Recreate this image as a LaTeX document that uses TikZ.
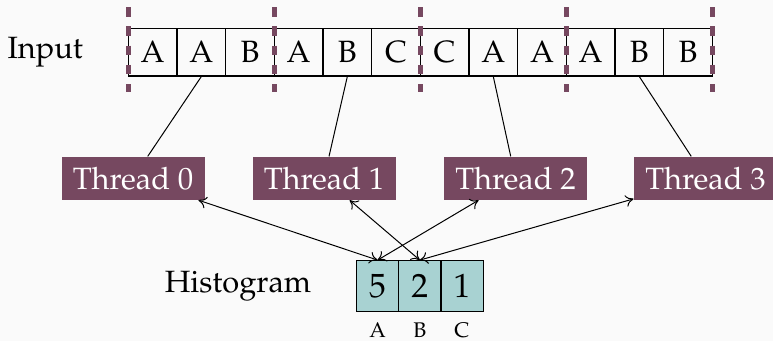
\documentclass[tikz,border=0pt]{standalone}
\usepackage[T1]{fontenc}
\usepackage{mathpazo}
\usetikzlibrary{arrows.meta}
\definecolor{bgcol}{HTML}{FAFAFA}
\definecolor{plum}{HTML}{764860}
\definecolor{histfill}{HTML}{A8D2D2}
\tikzset{
  incell/.style={draw, line width=0.6pt, minimum width=24.33pt, minimum height=23.7pt,
    inner sep=0pt, font=\fontsize{15.4}{18}\selectfont},
  thread/.style={fill=plum, text=white, minimum width=71.5pt, minimum height=21.5pt,
    inner sep=0pt, font=\fontsize{15.4}{18}\selectfont},
  hcell/.style={draw, fill=histfill, line width=0.6pt, minimum width=21.1pt, minimum height=25.5pt,
    inner sep=0pt, font=\fontsize{16.8}{19}\selectfont},
  label/.style={anchor=base, inner sep=0pt, font=\fontsize{15.4}{18}\selectfont},
  keylabel/.style={anchor=base, inner sep=0pt, font=\fontsize{10.6}{12}\selectfont},
  split/.style={draw=plum, line width=2.35pt, dash pattern=on 4.65pt off 4.95pt},
  link/.style={draw, line width=0.5pt},
  access/.style={draw, line width=0.5pt, {To[length=4pt,width=6pt]}-{To[length=4pt,width=6pt]}}
}
\begin{document}
\begin{tikzpicture}[x=0.5pt, y=-0.5pt]
  \fill[bgcol] (0,0) rectangle (773,341);
  \useasboundingbox (0,0) rectangle (773,341);
  \clip (0,0) rectangle (773,341);

  % input array
  \node[label] (input) at (45.3,59) {Input};
  \foreach \ch [count=\i from 0] in {A,A,B,A,B,C,C,A,A,A,B,B} {
    \node[incell] (c\i) at ({128.3+48.67*(\i+0.5)},52.3) {\ch};
  }

  % chunk boundaries
  \foreach \k in {0,1,2,3,4} {
    \coordinate (s\k) at ({128.3+146*\k},7.3);
    \coordinate (e\k) at ({128.3+146*\k},92);
    \draw[split] (s\k) -- (e\k);
  }

  % threads
  \node[thread] (t0) at (133,178.3) {Thread 0};
  \node[thread] (t1) at (324,178.3) {Thread 1};
  \node[thread] (t2) at (515.5,178.3) {Thread 2};
  \node[thread] (t3) at (705.5,178.3) {Thread 3};

  \draw[link] (c1.south) -- (t0);
  \draw[link] (c4.south) -- (t1);
  \draw[link] (c7.south) -- (t2);
  \draw[link] (c10.south) -- (t3);

  % histogram
  \node[label] (hist) at (238,293) {Histogram};
  \node[hcell] (hA) at (377.6,286.2) {5};
  \node[hcell] (hB) at (419.8,286.2) {2};
  \node[hcell] (hC) at (462,286.2) {1};
  \node[keylabel] (kA) at (377.6,338) {A};
  \node[keylabel] (kB) at (419.8,338) {B};
  \node[keylabel] (kC) at (462,338) {C};

  \draw[access] (t0) -- (hA.north);
  \draw[access] (t1) -- (hB.north);
  \draw[access] (t2) -- (hA.north);
  \draw[access] (t3) -- (hB.north);
\end{tikzpicture}
\end{document}
